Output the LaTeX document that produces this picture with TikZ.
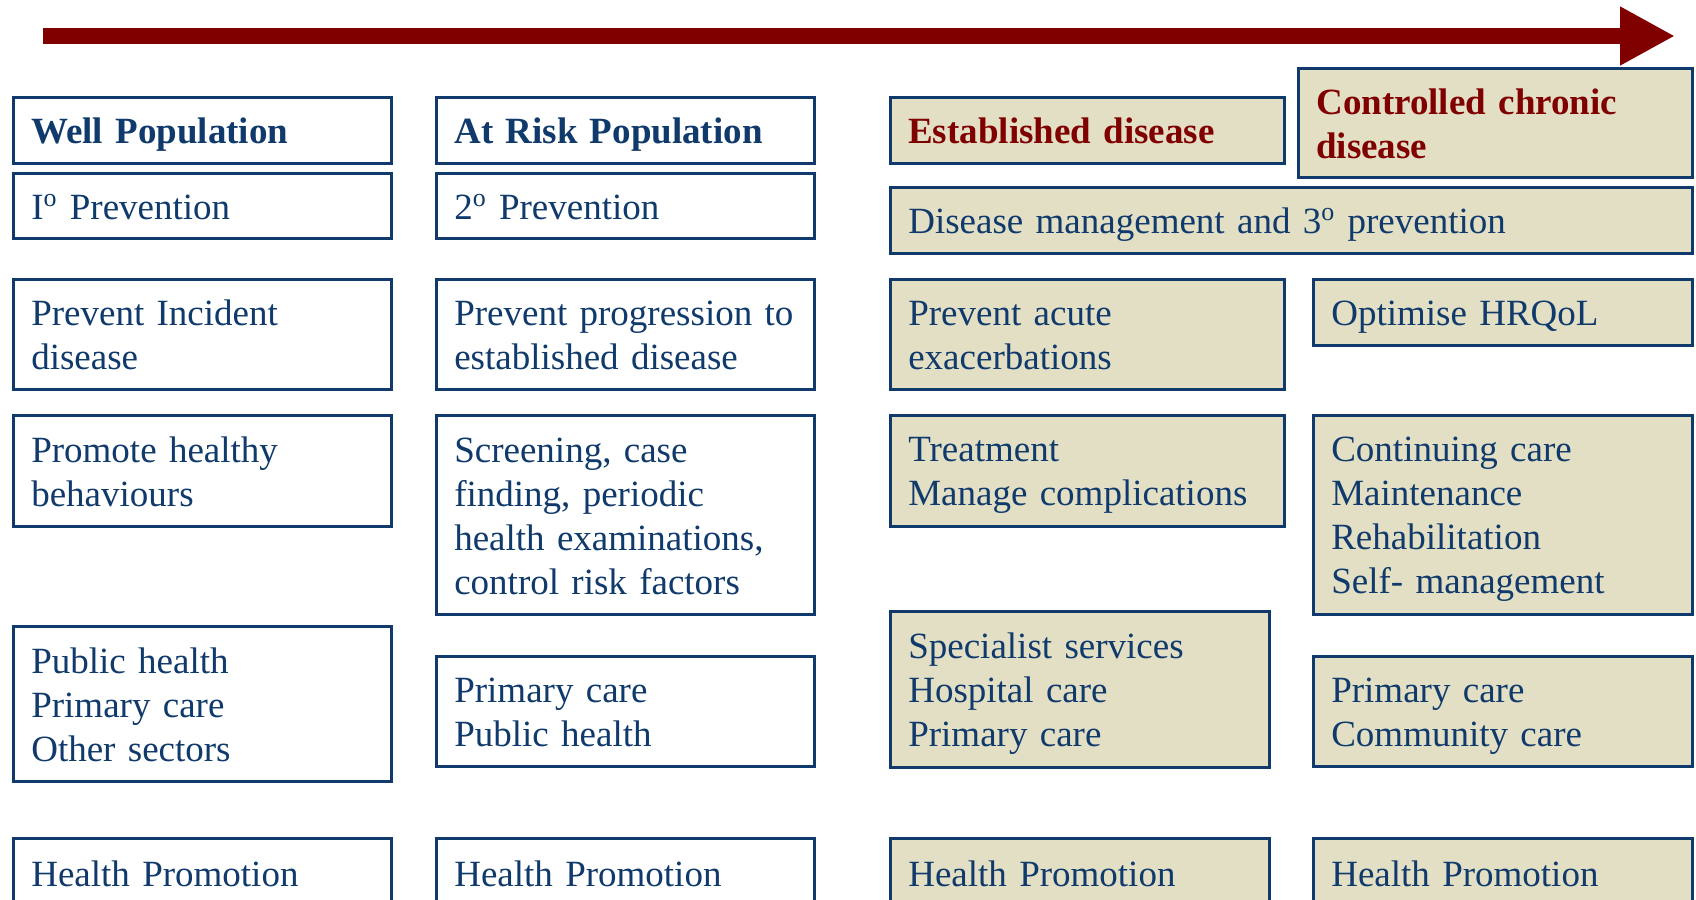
\documentclass[tikz,border=0pt]{standalone}
\usepackage{fontspec}
\setmainfont{Liberation Serif}
\usetikzlibrary{arrows.meta}

\definecolor{navy}{HTML}{103A6B}
\definecolor{beige}{HTML}{E2DFC5}
\definecolor{darkred}{HTML}{800000}

% strut fixe pour centrer toutes les lignes de la meme facon
\newcommand{\boxstrut}{\rule[-3.5pt]{0pt}{20.5pt}}

\tikzset{
    popbox/.style={rectangle, draw=navy, line width=1.3pt, anchor=north west, align=left,
        inner xsep=9pt, inner ysep=0pt, text=navy, font=\fontsize{18.5}{22}\selectfont,
        execute at begin node=\boxstrut, execute at end node=\boxstrut},
    plainbox/.style={popbox, fill=white},
    diseasebox/.style={popbox, fill=beige},
    boxsize/.style 2 args={minimum width=#1, text width=#1-18pt, minimum height=#2},
    headtext/.style={font=\fontsize{18.5}{22}\selectfont\bfseries},
    redhead/.style={headtext, text=darkred},
    bigarrow/.style={darkred, line width=8pt, -{Triangle[length=27.5pt, width=27.5pt]}}
}

\begin{document}
\begin{tikzpicture}[x=0.5pt, y=-0.5pt]

    \clip (0,0) rectangle (1696,899);

    % --- FLECHE DU HAUT ---
    \coordinate (arrow_start) at (43,36);
    \coordinate (arrow_end) at (1675,36);
    \draw [bigarrow] (arrow_start) -- (arrow_end);

    % --- EN-TETES ---
    \node (well_head) [plainbox, boxsize={189pt}{33pt}, headtext] at (12,96) {Well Population};
    \node (risk_head) [plainbox, boxsize={189pt}{33pt}, headtext] at (435,96) {At Risk Population};
    \node (est_head) [diseasebox, boxsize={197pt}{33pt}, redhead] at (889,96) {Established disease};
    \node (ctrl_head) [diseasebox, boxsize={197pt}{54.5pt}, redhead] at (1297,67) {Controlled chronic\\disease};

    % --- PREVENTION ---
    \node (well_prev) [plainbox, boxsize={189pt}{32.5pt}] at (12,172) {I\textsuperscript{o} Prevention};
    \node (risk_prev) [plainbox, boxsize={189pt}{32.5pt}] at (435,172) {2\textsuperscript{o} Prevention};
    \node (dm_prev) [diseasebox, boxsize={401pt}{33pt}] at (889,186) {Disease management and 3\textsuperscript{o} prevention};

    % --- OBJECTIFS ---
    \node (well_aim) [plainbox, boxsize={189pt}{55pt}] at (12,278) {Prevent Incident\\disease};
    \node (risk_aim) [plainbox, boxsize={189pt}{55pt}] at (435,278) {Prevent progression to\\established disease};
    \node (est_aim) [diseasebox, boxsize={197pt}{55pt}] at (889,278) {Prevent acute\\exacerbations};
    \node (ctrl_aim) [diseasebox, boxsize={189.5pt}{33pt}] at (1312,278) {Optimise HRQoL};

    % --- ACTIONS ---
    \node (well_act) [plainbox, boxsize={189pt}{55.5pt}] at (12,414) {Promote healthy\\behaviours};
    \node (risk_act) [plainbox, boxsize={189pt}{99.5pt}] at (435,414) {Screening, case\\finding, periodic\\health examinations,\\control risk factors};
    \node (est_act) [diseasebox, boxsize={197pt}{55.5pt}] at (889,414) {Treatment\\Manage complications};
    \node (ctrl_act) [diseasebox, boxsize={189.5pt}{99.5pt}] at (1312,414) {Continuing care\\Maintenance\\Rehabilitation\\Self- management};

    % --- ACTEURS ---
    \node (well_who) [plainbox, boxsize={189pt}{77.5pt}] at (12,625) {Public health\\Primary care\\Other sectors};
    \node (risk_who) [plainbox, boxsize={189pt}{55pt}] at (435,655) {Primary care\\Public health};
    \node (est_who) [diseasebox, boxsize={189.5pt}{78pt}] at (889,610) {Specialist services\\Hospital care\\Primary care};
    \node (ctrl_who) [diseasebox, boxsize={189.5pt}{55pt}] at (1312,655) {Primary care\\Community care};

    % --- PROMOTION (coupee en bas) ---
    \node (well_promo) [plainbox, boxsize={189pt}{35pt}] at (12,837) {Health Promotion};
    \node (risk_promo) [plainbox, boxsize={189pt}{35pt}] at (435,837) {Health Promotion};
    \node (est_promo) [diseasebox, boxsize={189.5pt}{35pt}] at (889,837) {Health Promotion};
    \node (ctrl_promo) [diseasebox, boxsize={189.5pt}{35pt}] at (1312,837) {Health Promotion};

\end{tikzpicture}
\end{document}
